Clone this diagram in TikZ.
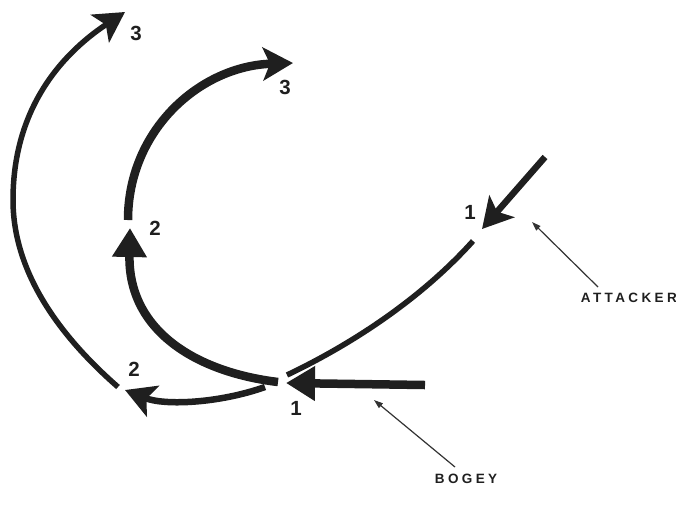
\documentclass[tikz,border=0pt]{standalone}
\usepackage{fontspec}
\setmainfont{Liberation Sans}
\newfontfamily\spacedfont[LetterSpace=25]{Liberation Sans}
\usetikzlibrary{arrows.meta}
\tikzset{
  x=1pt, y=-1pt,
  ink/.style={draw=black!88, line cap=butt},
  heavy/.style={ink, line width=8.5pt},
  medium/.style={ink, line width=6.5pt},
  light/.style={ink, line width=5.5pt},
  tri/.style={-{Triangle[length=29pt,width=33pt]}},
  stl/.style={-{Stealth[length=30pt,width=33pt,inset=7pt]}},
  num/.style={font=\fontsize{20.5}{20.5}\selectfont\bfseries, text=black!88, inner sep=0pt},
  lbl/.style={font=\fontsize{13.5}{13.5}\selectfont\bfseries\spacedfont, text=black!88, inner sep=0pt},
  pointer/.style={draw=black!80, line width=1.2pt, -{Triangle[length=9pt,width=6pt]}}
}
\begin{document}
\begin{tikzpicture}
\useasboundingbox (0,0) rectangle (676,515);
% coordinates
\coordinate (bStart) at (425,385);
\coordinate (bTip1) at (286,383);
\coordinate (bTurn) at (265,387);
\coordinate (bTip2) at (125,390);
\coordinate (bLoop) at (118,387);
\coordinate (bLeft) at (13,200);
\coordinate (bTip3) at (125,12);
\coordinate (aStart) at (545,157);
\coordinate (aTip1) at (482,229);
\coordinate (aCont) at (473,241);
\coordinate (aEnd) at (287,375);
\coordinate (aTurn) at (278,382);
\coordinate (aTip2) at (130,228);
\coordinate (aUp) at (128,220);
\coordinate (aTip3) at (293,63);
% bogey
\draw[heavy, tri] (bStart) -- (bTip1);
\draw[medium, stl] (bTurn) .. controls (220,403) and (165,406) .. (bTip2);
\draw[light, stl] (bLoop) .. controls (70,345) and (13,280) .. (bLeft)
   .. controls (13,110) and (60,55) .. (bTip3);
% attacker
\draw[medium, stl] (aStart) -- (aTip1);
\draw[light] (aCont) .. controls (420,300) and (350,345) .. (aEnd);
\draw[heavy, tri] (aTurn) .. controls (195,372) and (128,330) .. (aTip2);
\draw[heavy, stl] (aUp) .. controls (128,130) and (200,66) .. (aTip3);
% numbers
\node[num] (n1a) at (470,212) {1};
\node[num] (n1b) at (296,408) {1};
\node[num] (n2b) at (134,369) {2};
\node[num] (n2a) at (155,228) {2};
\node[num] (n3b) at (136,33) {3};
\node[num] (n3a) at (285,87) {3};
% labels
\node[lbl, anchor=east] (att) at (677,298) {ATTACKER};
\node[lbl] (bog) at (466,479) {BOGEY};
\coordinate (attP) at (532,222);
\coordinate (bogP) at (374,400);
\draw[pointer] (598,287) -- (attP);
\draw[pointer] (455,467) -- (bogP);
\end{tikzpicture}
\end{document}
